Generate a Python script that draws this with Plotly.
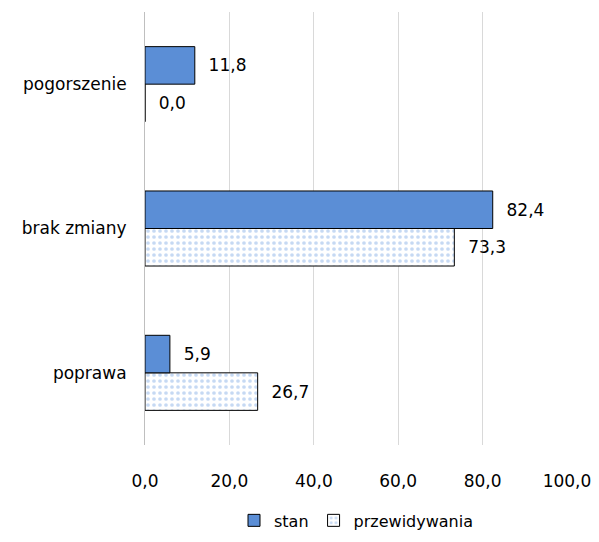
import plotly.graph_objects as go

categories = ["poprawa", "brak zmiany", "pogorszenie"]
stan = [5.9, 82.4, 11.8]
przewidywania = [26.7, 73.3, 0.0]

font = "DejaVu Sans"

fig = go.Figure()
fig.add_trace(go.Bar(
    y=categories, x=przewidywania, orientation="h", name="przewidywania",
    marker=dict(color="white", line=dict(color="black", width=1),
                pattern=dict(shape=".", fgcolor="#8DB4E8", bgcolor="white", size=6, solidity=0.3)),
    texttemplate="  %{x:.1f}", textposition="outside", cliponaxis=False,
    textfont=dict(size=17, color="black"), legendrank=2,
))
fig.add_trace(go.Bar(
    y=categories, x=stan, orientation="h", name="stan",
    marker=dict(color="#5B8ED6", line=dict(color="black", width=1)),
    texttemplate="  %{x:.1f}", textposition="outside", cliponaxis=False,
    textfont=dict(size=17, color="black"), legendrank=1,
))

fig.update_layout(
    width=591, height=534,
    barmode="group", bargap=0.48, bargroupgap=0,
    separators=", ",
    paper_bgcolor="white", plot_bgcolor="white",
    font=dict(family=font, size=17, color="black"),
    margin=dict(l=137, r=32, t=4, b=89),
    xaxis=dict(range=[0, 100], dtick=20, tickformat=".1f", showgrid=True, automargin=False,
               gridcolor="#D9D9D9", gridwidth=1, zeroline=False, ticks="", ticklabelstandoff=24),
    yaxis=dict(showline=True, linecolor="#BFBFBF", ticks="", automargin=False,
               ticklabelstandoff=14),
    legend=dict(orientation="h", x=0.5, xanchor="center", y=-0.135, yanchor="top",
                font=dict(size=16), itemwidth=30),
)

fig.write_html("out.html")
